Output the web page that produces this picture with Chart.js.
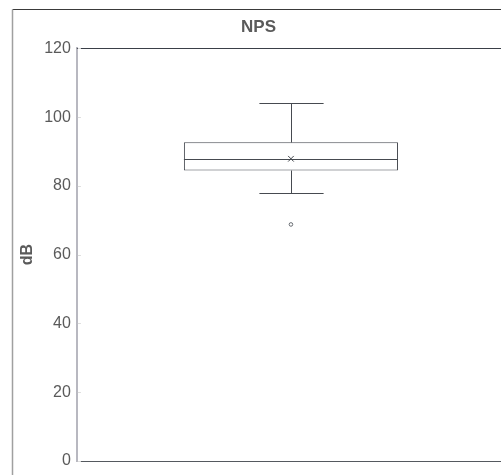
<!DOCTYPE html>
<html>
<head>
<meta charset="utf-8">
<script src="https://cdn.jsdelivr.net/npm/chart.js@4/dist/chart.umd.min.js"></script>
<style>
  html, body { margin: 0; padding: 0; overflow: hidden; background: #fff; }
  #wrap { width: 520px; height: 490px; }
</style>
</head>
<body>
<div id="wrap"><canvas id="myChart" width="520" height="490"></canvas></div>
<script>
// box plot values
const categories = ['NPS'];
const q1 = [84.5];
const median = [87.7];
const q3 = [92.7];
const whiskerLow = [77.8];
const whiskerHigh = [104.1];
const means = [87.9];
const outliers = [68.8];
const yTicks = [0, 20, 40, 60, 80, 100, 120];

const lineColor = '#464a50';
const textColor = '#5a5a5a';

// frame around the figure + border on top of plot area + inward ticks
const framePlugin = {
  id: 'frame',
  beforeDraw(chart) {
    const ctx = chart.ctx;
    ctx.save();
    ctx.lineWidth = 1;
    ctx.strokeStyle = '#3a3a3a';
    ctx.beginPath();
    ctx.moveTo(12.5, 9.5);
    ctx.lineTo(chart.width, 9.5);
    ctx.stroke();
    ctx.strokeStyle = '#a0a0a0';
    ctx.lineWidth = 1.5;
    ctx.beginPath();
    ctx.moveTo(12.5, 9.5);
    ctx.lineTo(12.5, chart.height);
    ctx.stroke();
    ctx.restore();
  },
  afterDraw(chart) {
    const ctx = chart.ctx;
    const a = chart.chartArea;
    const y = chart.scales.y;
    ctx.save();
    ctx.strokeStyle = '#3a3f48';
    ctx.lineWidth = 1;
    ctx.beginPath();
    ctx.moveTo(a.left, Math.round(a.top) + 0.5);
    ctx.lineTo(chart.width, Math.round(a.top) + 0.5);
    ctx.stroke();
    ctx.strokeStyle = '#dcdcdc';
    ctx.beginPath();
    y.ticks.forEach(t => {
      const py = Math.round(y.getPixelForValue(t.value)) + 0.5;
      ctx.moveTo(a.left + 1, py);
      ctx.lineTo(a.left + 4, py);
    });
    ctx.stroke();
    ctx.restore();
  }
};

// whiskers, caps and median line drawn from the arrays via the scales
const boxPlugin = {
  id: 'boxExtras',
  afterDatasetsDraw(chart) {
    const ctx = chart.ctx;
    const y = chart.scales.y;
    const meta = chart.getDatasetMeta(0);
    ctx.save();
    ctx.strokeStyle = lineColor;
    ctx.lineWidth = 1;
    meta.data.forEach((bar, i) => {
      const cx = Math.round(bar.x) + 0.5;
      const half = bar.width / 2;
      const capHalf = bar.width * 0.15;
      const px = v => Math.round(y.getPixelForValue(v)) + 0.5;
      ctx.beginPath();
      // median
      ctx.moveTo(bar.x - half, px(median[i]));
      ctx.lineTo(bar.x + half, px(median[i]));
      // upper whisker
      ctx.moveTo(cx, px(q3[i]));
      ctx.lineTo(cx, px(whiskerHigh[i]));
      ctx.moveTo(cx - capHalf, px(whiskerHigh[i]));
      ctx.lineTo(cx + capHalf, px(whiskerHigh[i]));
      // lower whisker
      ctx.moveTo(cx, px(q1[i]));
      ctx.lineTo(cx, px(whiskerLow[i]));
      ctx.moveTo(cx - capHalf, px(whiskerLow[i]));
      ctx.lineTo(cx + capHalf, px(whiskerLow[i]));
      ctx.stroke();
    });
    ctx.restore();
  }
};

const ctx = document.getElementById('myChart').getContext('2d');
new Chart(ctx, {
  type: 'bar',
  data: {
    labels: categories,
    datasets: [
      {
        label: 'box',
        data: categories.map((c, i) => [q1[i], q3[i]]),
        backgroundColor: '#ffffff',
        borderColor: lineColor,
        borderWidth: 1,
        borderSkipped: false,
        categoryPercentage: 1,
        barPercentage: 0.5,
        order: 2
      },
      {
        type: 'line',
        label: 'mean',
        data: categories.map((c, i) => ({ x: c, y: means[i] })),
        showLine: false,
        pointStyle: 'crossRot',
        pointRadius: 4,
        borderColor: lineColor,
        borderWidth: 1,
        order: 1
      },
      {
        type: 'line',
        label: 'outliers',
        data: categories.map((c, i) => ({ x: c, y: outliers[i] })),
        showLine: false,
        pointStyle: 'circle',
        pointRadius: 1.8,
        borderColor: '#666a70',
        backgroundColor: '#ffffff',
        borderWidth: 1,
        order: 1
      }
    ]
  },
  options: {
    responsive: false,
    animation: false,
    layout: { padding: { left: 12, top: 9, right: 15, bottom: 21 } },
    plugins: {
      legend: { display: false },
      tooltip: { enabled: false },
      title: {
        display: true,
        text: 'NPS',
        color: textColor,
        font: { family: 'Liberation Sans, Arial, sans-serif', size: 17, weight: 'bold' },
        padding: { top: 8, bottom: 11 }
      }
    },
    scales: {
      x: {
        ticks: { display: false },
        grid: { display: false },
        border: { display: true, color: '#55595f', width: 1 }
      },
      y: {
        min: 0,
        max: 120,
        afterBuildTicks: scale => { scale.ticks = yTicks.map(v => ({ value: v })); },
        ticks: {
          color: textColor,
          padding: 6,
          font: { family: 'Liberation Sans, Arial, sans-serif', size: 16 }
        },
        grid: { drawOnChartArea: false, drawTicks: false, tickLength: 0 },
        border: { display: true, color: '#b8b8c0', width: 2 },
        title: {
          display: true,
          text: 'dB',
          color: textColor,
          font: { family: 'Liberation Sans, Arial, sans-serif', size: 16, weight: 'bold' },
          padding: { top: 6, bottom: 1 }
        }
      }
    }
  },
  plugins: [framePlugin, boxPlugin]
});
</script>
</body>
</html>
